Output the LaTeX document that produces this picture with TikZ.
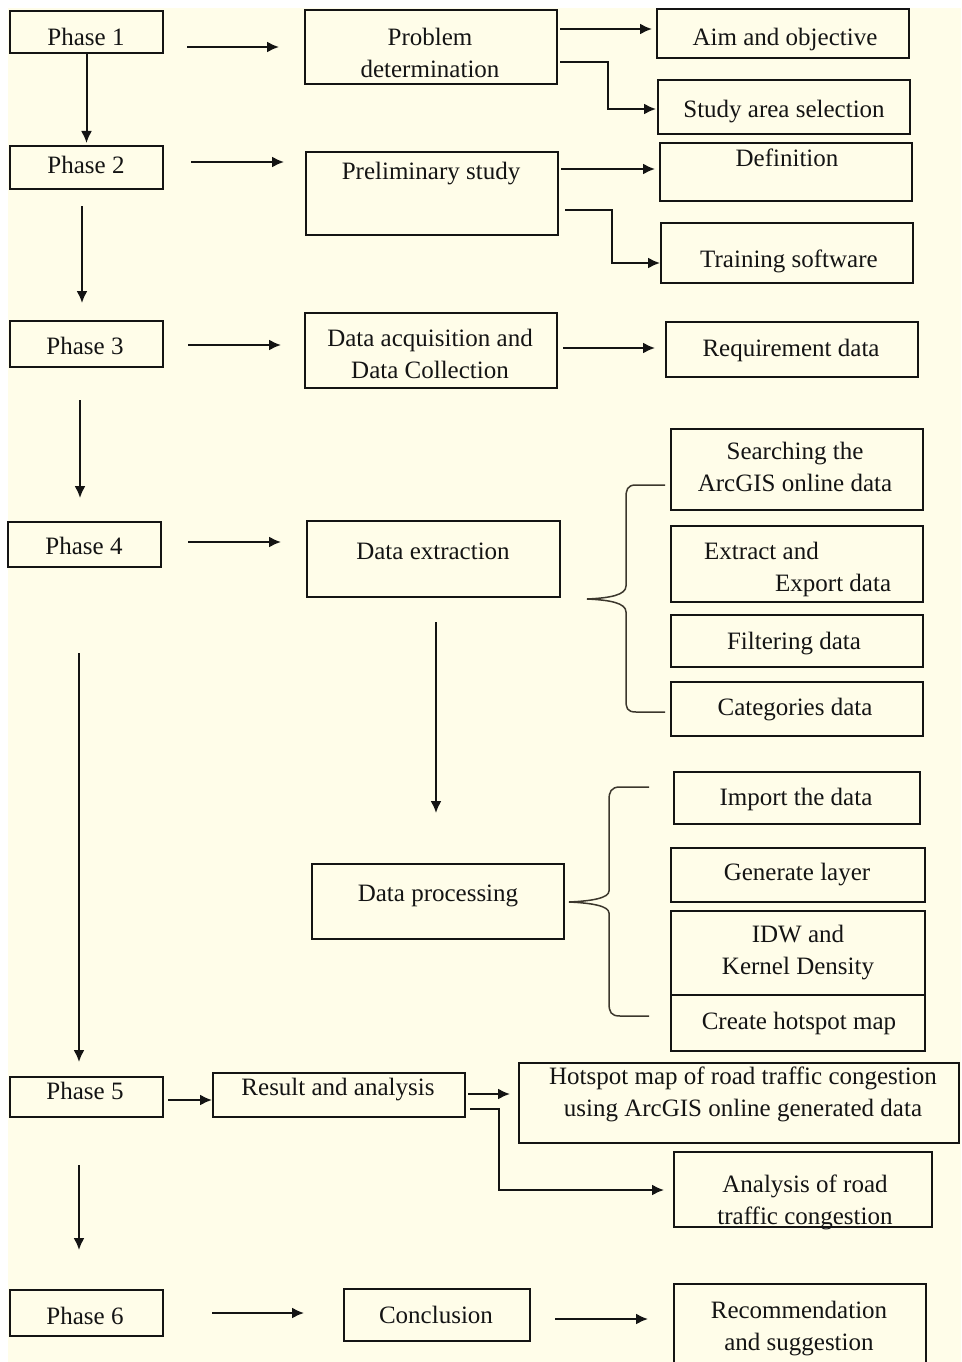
\documentclass[tikz,border=0pt]{standalone}
\usepackage{fontspec}
\setmainfont{Liberation Serif}
\usetikzlibrary{calc,arrows.meta}
\definecolor{cream}{RGB}{255,253,233}
\definecolor{ink}{RGB}{20,20,20}
\definecolor{bracec}{RGB}{60,55,45}
\newcommand{\bx}[5]{\node[box,minimum width={#4-#2},minimum height={#5-#3}] (#1) at ({(#2+#4)/2},{(#3+#5)/2}) {};}
\begin{document}
\begin{tikzpicture}[x=1pt,y=-1pt,
  box/.style={draw=ink,line width=1.6pt,fill=cream,inner sep=0pt,outer sep=0pt},
  txt/.style={inner sep=0pt,anchor=base,font=\fontsize{25}{32}\selectfont,text=ink},
  arr/.style={draw=ink,line width=2pt,-{Latex[length=12pt,width=11pt]}},
  brace/.style={draw=bracec,line width=1.5pt}]
\useasboundingbox (0,0) rectangle (961,1362);
\fill[white] (0,0) rectangle (961,1362);
\fill[cream] (8,8) rectangle (961,1362);
% boxes
\bx{p1}{10}{11}{163}{53}
\bx{p2}{10}{146}{163}{189}
\bx{p3}{10}{321}{163}{367}
\bx{p4}{8}{522}{161}{567}
\bx{p5}{10}{1077}{163}{1117}
\bx{p6}{10}{1290}{163}{1336}
\bx{prob}{305}{10}{557}{84}
\bx{prel}{306}{152}{558}{235}
\bx{acq}{305}{313}{557}{388}
\bx{ext}{307}{521}{560}{597}
\bx{proc}{312}{864}{564}{939}
\bx{res}{213}{1073}{465}{1117}
\bx{conc}{344}{1289}{530}{1341}
\bx{aim}{657}{9}{909}{58}
\bx{study}{658}{80}{910}{134}
\bx{defn}{660}{143}{912}{201}
\bx{train}{661}{223}{913}{283}
\bx{req}{666}{322}{918}{377}
\bx{srch}{671}{429}{923}{510}
\bx{expo}{671}{526}{923}{602}
\bx{filt}{671}{615}{923}{667}
\bx{categ}{671}{682}{923}{736}
\bx{imp}{674}{772}{920}{824}
\bx{gen}{671}{848}{925}{902}
\bx{idw}{671}{911}{925}{995}
\bx{hot}{671}{995}{925}{1051}
\bx{hmap}{519}{1063}{959}{1143}
\bx{anal}{674}{1152}{932}{1227}
\bx{rec}{674}{1284}{926}{1380}
% texts
\node[txt] (tp1) at (86,46) {Phase 1};
\node[txt] (tp2) at (86,173) {Phase 2};
\node[txt] (tp3) at (85,354) {Phase 3};
\node[txt] (tp4) at (84,554) {Phase 4};
\node[txt] (tp5) at (85,1099) {Phase 5};
\node[txt] (tp6) at (85,1324) {Phase 6};
\node[txt] (tprob) at (430,46) {\begin{tabular}[t]{@{}c@{}}Problem\\determination\end{tabular}};
\node[txt] (tprel) at (431,179) {Preliminary study};
\node[txt] (tacq) at (430,346) {\begin{tabular}[t]{@{}c@{}}Data acquisition and\\Data Collection\end{tabular}};
\node[txt] (text) at (433,559) {Data extraction};
\node[txt] (tproc) at (438,901) {Data processing};
\node[txt] (tres) at (338,1095) {Result and analysis};
\node[txt] (tconc) at (436,1323) {Conclusion};
\node[txt] (taim) at (785,46) {Aim and objective};
\node[txt] (tstudy) at (784,118) {Study area selection};
\node[txt] (tdefn) at (787,166) {Definition};
\node[txt] (ttrain) at (789,267) {Training software};
\node[txt] (treq) at (791,356) {Requirement data};
\node[txt] (tsrch) at (795,459) {\begin{tabular}[t]{@{}c@{}}Searching the\\ArcGIS online data\end{tabular}};
\node[txt,anchor=base west] (texpo) at (704,559) {\begin{tabular}[t]{@{}l@{}}Extract and\\\hspace*{71pt}Export data\end{tabular}};
\node[txt] (tfilt) at (794,649) {Filtering data};
\node[txt] (tcateg) at (795,715) {Categories data};
\node[txt] (timp) at (796,805) {Import the data};
\node[txt] (tgen) at (797,880) {Generate layer};
\node[txt] (tidw) at (798,942) {\begin{tabular}[t]{@{}c@{}}IDW and\\Kernel Density\end{tabular}};
\node[txt] (thot) at (799,1029) {Create hotspot map};
\node[txt] (thmap) at (743,1084) {\begin{tabular}[t]{@{}c@{}}Hotspot map of road traffic congestion\\using ArcGIS online generated data\end{tabular}};
\node[txt] (tanal) at (805,1192) {\begin{tabular}[t]{@{}c@{}}Analysis of road\\traffic congestion\end{tabular}};
\node[txt] (trec) at (799,1318) {\begin{tabular}[t]{@{}c@{}}Recommendation\\and suggestion\end{tabular}};
% phase arrows
\draw[arr] ($(p1.east|-prob.west)+(24,0)$) -- ($(prob.west)+(-26,0)$);
\draw[arr] (p1.south) -- ($(p2.north)+(0,-3)$);
\draw[arr] ($(p2.east)+(28,-5.5)$) -- ($(prel.west|-p2.east)+(-22,-5.5)$);
\draw[arr] ($(p2.south)+(-4.5,17)$) -- ($(p3.north)+(-4.5,-18)$);
\draw[arr] ($(p3.east)+(25,1)$) -- ($(acq.west|-p3.east)+(-24,1)$);
\draw[arr] ($(p3.south)+(-6.5,33)$) -- ($(p4.north)+(-4.5,-24)$);
\draw[arr] ($(p4.east)+(27,-2.5)$) -- ($(ext.west|-p4.east)+(-26,-2.5)$);
\draw[arr] ($(p4.south)+(-5.5,86)$) -- ($(p5.north)+(-7.5,-15)$);
\draw[arr] ($(p5.east)+(5,3)$) -- ($(res.west|-p5.east)+(-1,3)$);
\draw[arr] ($(p5.south)+(-7.5,48)$) -- ($(p6.north)+(-7.5,-40)$);
\draw[arr] ($(p6.east)+(49,0)$) -- ($(conc.west|-p6.east)+(-40,0)$);
\draw[arr] ($(conc.east)+(25,4)$) -- ($(rec.west|-conc.east)+(-26,4)$);
% right arrows
\draw[arr] ($(prob.east|-aim.west)+(3,-4.5)$) -- ($(aim.west)+(-5,-4.5)$);
\draw[arr] ($(prob.east)+(3,15)$) -| ($(study.west)+(-50,2)$) -- ($(study.west)+(-2,2)$);
\draw[arr] ($(prel.east|-defn.west)+(3,-3)$) -- ($(defn.west)+(-5,-3)$);
\draw[arr] ($(prel.east)+(7,16.5)$) -| ($(train.west)+(-49,10)$) -- ($(train.west)+(-1,10)$);
\draw[arr] ($(acq.east)+(6,-2.5)$) -- ($(req.west|-acq.east)+(-11,-2.5)$);
\draw[arr] ($(ext.south)+(2.5,25)$) -- ($(ext.south|-proc.north)+(2.5,-51)$);
\draw[arr] ($(res.east)+(3,-1)$) -- ($(hmap.west|-res.east)+(-9,-1)$);
\draw[arr] ($(res.east)+(5,14)$) -| ($(anal.west)+(-175,0.5)$) -- ($(anal.west)+(-10,0.5)$);
% braces
\draw[brace] (665,485) -- (636,485) .. controls (627,485) and (626,490) .. (626,498) -- (626,586) .. controls (626,595) and (610,598) .. (587,599) .. controls (610,600) and (626,603) .. (626,612) -- (626,700) .. controls (626,708) and (627,712) .. (636,712) -- (665,712);
\draw[brace] (649,787) -- (620,787) .. controls (611,787) and (609,792) .. (609,800) -- (609,891) .. controls (609,898) and (592,901) .. (569,902) .. controls (592,903) and (609,906) .. (609,913) -- (609,1003) .. controls (609,1012) and (611,1016) .. (620,1016) -- (649,1016);
\end{tikzpicture}
\end{document}
